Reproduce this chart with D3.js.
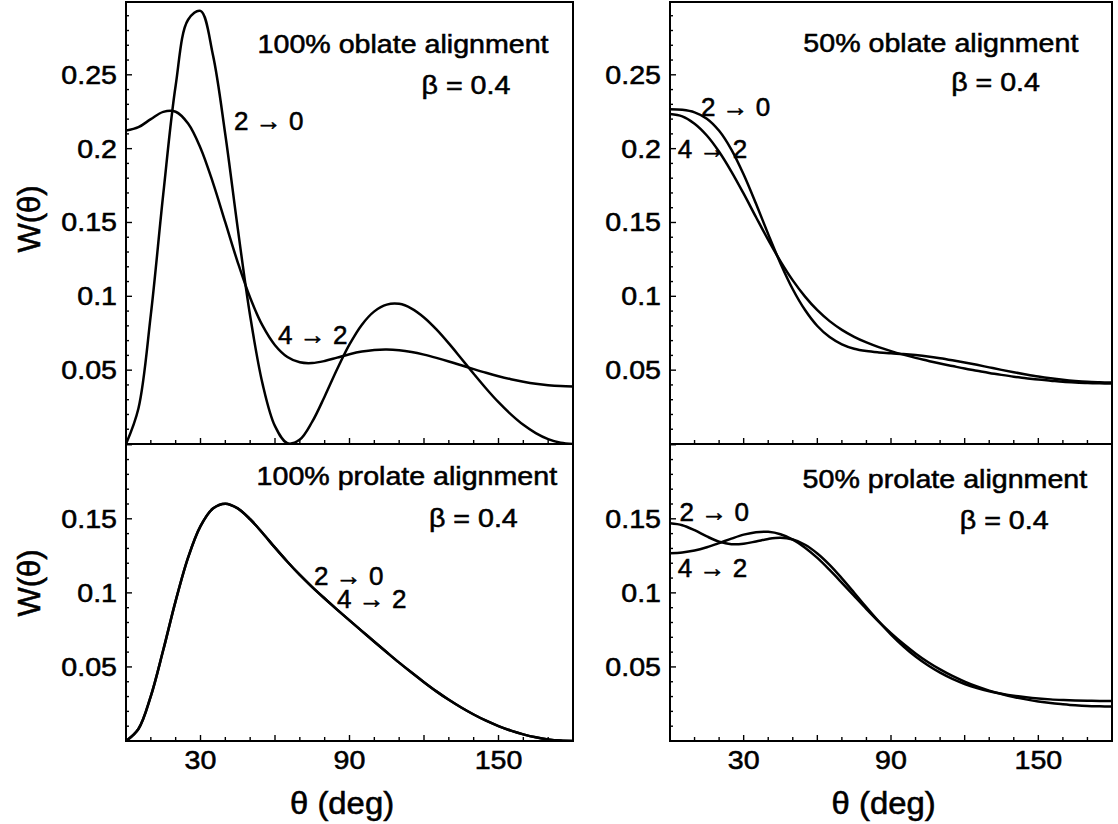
<!DOCTYPE html>
<html>
<head>
<meta charset="utf-8">
<script src="https://cdn.jsdelivr.net/npm/d3@7"></script>
<style>
  html, body { margin: 0; padding: 0; background: #fff; }
  svg { display: block; }
  text { font-family: "Liberation Sans", Arial, Helvetica, sans-serif; fill: #000; stroke: #000; stroke-width: 0.55px; }
</style>
</head>
<body>
<svg id="chart" width="1118" height="824"></svg>
<script>
// Emission angle in degrees (lab frame)
const theta = [0, 5, 10, 15, 20, 25, 30, 35, 40, 45, 50, 55, 60, 65, 70, 75, 80, 85, 90,
               95, 100, 105, 110, 115, 120, 125, 130, 135, 140, 145, 150, 155, 160, 165, 170, 175, 180];

// W(theta), 100% oblate alignment
const oblate100_2to0 = [0, 0.0240, 0.0876, 0.1692, 0.2428, 0.2873, 0.2933, 0.2635, 0.2094, 0.1460,
  0.0867, 0.0407, 0.0121, 0.0005, 0.0030, 0.0151, 0.0322, 0.0506, 0.0674, 0.0808, 0.0898, 0.0944,
  0.0949, 0.0917, 0.0857, 0.0776, 0.0681, 0.0579, 0.0476, 0.0376, 0.0283, 0.0201, 0.0130, 0.0074,
  0.0033, 0.0008, 0];
const oblate100_4to2 = [0.2122, 0.2145, 0.2200, 0.2249, 0.2250, 0.2170, 0.2005, 0.1770, 0.1500, 0.1230,
  0.0990, 0.0801, 0.0669, 0.0589, 0.0553, 0.0548, 0.0562, 0.0585, 0.0608, 0.0626, 0.0637, 0.0640,
  0.0635, 0.0623, 0.0605, 0.0583, 0.0559, 0.0533, 0.0507, 0.0482, 0.0459, 0.0439, 0.0422, 0.0408,
  0.0398, 0.0392, 0.0390];

// W(theta), 50% oblate alignment
const oblate50_2to0 = [0.2267, 0.2263, 0.2246, 0.2203, 0.2121, 0.1994, 0.1825, 0.1628, 0.1421, 0.1223,
  0.1048, 0.0907, 0.0799, 0.0724, 0.0675, 0.0645, 0.0629, 0.0620, 0.0614, 0.0609, 0.0602, 0.0593,
  0.0581, 0.0567, 0.0552, 0.0536, 0.0519, 0.0502, 0.0486, 0.0471, 0.0457, 0.0445, 0.0435, 0.0427,
  0.0421, 0.0418, 0.0416];
const oblate50_4to2 = [0.2234, 0.2218, 0.2169, 0.2089, 0.1979, 0.1845, 0.1695, 0.1537, 0.1382, 0.1237,
  0.1108, 0.0998, 0.0906, 0.0832, 0.0773, 0.0726, 0.0688, 0.0656, 0.0629, 0.0605, 0.0583, 0.0564,
  0.0545, 0.0528, 0.0511, 0.0496, 0.0481, 0.0468, 0.0456, 0.0446, 0.0436, 0.0429, 0.0422, 0.0417,
  0.0413, 0.0411, 0.0410];

// W(theta), 100% prolate alignment (both transitions coincide)
const prolate100_2to0 = [0, 0.0081, 0.0303, 0.0614, 0.0946, 0.1238, 0.1450, 0.1569, 0.1602, 0.1570,
  0.1497, 0.1404, 0.1305, 0.1210, 0.1121, 0.1039, 0.0962, 0.0887, 0.0814, 0.0742, 0.0670, 0.0599,
  0.0529, 0.0462, 0.0397, 0.0335, 0.0278, 0.0226, 0.0179, 0.0137, 0.0101, 0.0070, 0.0045, 0.0025,
  0.0011, 0.0003, 0];
const prolate100_4to2 = [0, 0.0081, 0.0303, 0.0614, 0.0946, 0.1238, 0.1450, 0.1569, 0.1602, 0.1570,
  0.1497, 0.1404, 0.1305, 0.1210, 0.1121, 0.1039, 0.0962, 0.0887, 0.0814, 0.0742, 0.0670, 0.0599,
  0.0529, 0.0462, 0.0397, 0.0335, 0.0278, 0.0226, 0.0179, 0.0137, 0.0101, 0.0070, 0.0045, 0.0025,
  0.0011, 0.0003, 0];

// W(theta), 50% prolate alignment
const prolate50_2to0 = [0.1470, 0.1457, 0.1423, 0.1381, 0.1346, 0.1329, 0.1332, 0.1347, 0.1364, 0.1372,
  0.1360, 0.1325, 0.1266, 0.1189, 0.1098, 0.1001, 0.0902, 0.0807, 0.0719, 0.0640, 0.0570, 0.0511,
  0.0461, 0.0419, 0.0385, 0.0358, 0.0336, 0.0319, 0.0305, 0.0295, 0.0287, 0.0281, 0.0277, 0.0274,
  0.0272, 0.0270, 0.0270];
const prolate50_4to2 = [0.1268, 0.1273, 0.1286, 0.1308, 0.1336, 0.1366, 0.1393, 0.1410, 0.1412, 0.1396,
  0.1360, 0.1305, 0.1236, 0.1155, 0.1068, 0.0979, 0.0891, 0.0806, 0.0728, 0.0656, 0.0591, 0.0533,
  0.0483, 0.0439, 0.0401, 0.0368, 0.0340, 0.0317, 0.0297, 0.0281, 0.0267, 0.0256, 0.0248, 0.0241,
  0.0236, 0.0234, 0.0233];

// Tick values and their printed labels
const xTickLabels = [30, 90, 150];
const yTicksTop = [0.05, 0.1, 0.15, 0.2, 0.25];
const yTickLabelsTop = ["0.05", "0.1", "0.15", "0.2", "0.25"];
const yTicksBottom = [0.05, 0.1, 0.15];
const yTickLabelsBottom = ["0.05", "0.1", "0.15"];

const svg = d3.select("#chart");
const FONT = 26;
const STRETCH = 1.1;

const panels = [
  { id: "tl", box: [126, 573, 2, 444], yMax: 0.2993, ticks: yTicksTop, tickLabels: yTickLabelsTop,
    series: [oblate100_2to0, oblate100_4to2], xLabels: false,
    title: ["100% oblate alignment", 53, 0.2645], beta: [119, 0.237],
    notes: [["2 \u2192 0", 43.5, 0.2125], ["4 \u2192 2", 61.2, 0.0675]] },
  { id: "tr", box: [670, 1112, 2, 444], yMax: 0.2993, ticks: yTicksTop, tickLabels: yTickLabelsTop,
    series: [oblate50_2to0, oblate50_4to2], xLabels: false,
    title: ["50% oblate alignment", 54.3, 0.2654], beta: [114.5, 0.2393],
    notes: [["2 \u2192 0", 12.6, 0.2222], ["4 \u2192 2", 3.2, 0.1938]] },
  { id: "bl", box: [126, 573, 444, 741], yMax: 0.2005, ticks: yTicksBottom, tickLabels: yTickLabelsBottom,
    series: [prolate100_2to0, prolate100_4to2], xLabels: true,
    title: ["100% prolate alignment", 52.6, 0.1728], beta: [122, 0.1448],
    notes: [["2 \u2192 0", 75.7, 0.1052], ["4 \u2192 2", 85, 0.0900]] },
  { id: "br", box: [670, 1112, 444, 741], yMax: 0.2005, ticks: yTicksBottom, tickLabels: yTickLabelsBottom,
    series: [prolate50_2to0, prolate50_4to2], xLabels: true,
    title: ["50% prolate alignment", 54, 0.1710], beta: [118, 0.1432],
    notes: [["2 \u2192 0", 3.9, 0.1484], ["4 \u2192 2", 3.2, 0.1105]] }
];

function stretchedText(g, str, x, y, anchor, size, sx) {
  return g.append("text")
    .attr("transform", `translate(${x},${y}) scale(${sx},1)`)
    .attr("text-anchor", anchor)
    .attr("font-size", size)
    .text(str);
}

panels.forEach(p => {
  const [x0, x1, y0, y1] = p.box;
  const x = d3.scaleLinear().domain([0, 180]).range([x0, x1]);
  const y = d3.scaleLinear().domain([0, p.yMax]).range([y1, y0]);
  const g = svg.append("g");

  const clipId = "clip-" + p.id;
  svg.append("clipPath").attr("id", clipId)
    .append("rect").attr("x", x0).attr("y", y0).attr("width", x1 - x0).attr("height", y1 - y0);

  // curves
  const line = d3.line()
    .x((d, i) => x(theta[i]))
    .y(d => y(d))
    .curve(d3.curveCatmullRom.alpha(0.5));
  p.series.forEach(s => {
    g.append("path")
      .attr("clip-path", `url(#${clipId})`)
      .attr("d", line(s))
      .attr("fill", "none")
      .attr("stroke", "#000")
      .attr("stroke-width", 2.5)
      .attr("stroke-linejoin", "round");
  });

  // x ticks (inward, every 10 degrees)
  const xTicks = d3.range(10, 180, 10);
  g.append("g").selectAll("line").data(xTicks).join("line")
    .attr("x1", d => x(d)).attr("x2", d => x(d))
    .attr("y1", y1).attr("y2", d => y1 - (d % 30 === 0 ? 6 : 4))
    .attr("stroke", "#000").attr("stroke-width", 1.4);

  // y ticks (inward, minor every 0.01)
  const yMinor = d3.range(1, Math.floor(p.yMax * 100 + 1e-6) + 1).map(k => k / 100);
  g.append("g").selectAll("line").data(yMinor).join("line")
    .attr("x1", x0).attr("x2", d => x0 + (Math.abs(d * 20 - Math.round(d * 20)) < 1e-6 ? 6 : 3))
    .attr("y1", d => y(d)).attr("y2", d => y(d))
    .attr("stroke", "#000").attr("stroke-width", 1.4);

  // y tick labels
  p.ticks.forEach((v, i) => {
    stretchedText(g, p.tickLabels[i], x0 - 9, y(v) + 9, "end", FONT, STRETCH);
  });

  // x tick labels
  if (p.xLabels) {
    xTickLabels.forEach(v => {
      stretchedText(g, String(v), x(v), 769, "middle", FONT, STRETCH);
    });
    stretchedText(g, "\u03b8 (deg)", x(87), 814, "middle", 31, 1.06);
  }

  // frame
  g.append("rect")
    .attr("x", x0).attr("y", y0).attr("width", x1 - x0).attr("height", y1 - y0)
    .attr("fill", "none").attr("stroke", "#000").attr("stroke-width", 2);

  // annotations
  stretchedText(g, p.title[0], x(p.title[1]), y(p.title[2]), "start", FONT, STRETCH);
  stretchedText(g, "\u03b2 = 0.4", x(p.beta[0]), y(p.beta[1]), "start", FONT, STRETCH);
  p.notes.forEach(n => {
    stretchedText(g, n[0], x(n[1]), y(n[2]), "start", FONT, 1.0);
  });
});

// y axis titles
[219, 583].forEach(cy => {
  svg.append("text")
    .attr("transform", `translate(40,${cy}) rotate(-90)`)
    .attr("text-anchor", "middle")
    .attr("font-size", 31)
    .text("W(\u03b8)");
});
</script>
</body>
</html>
